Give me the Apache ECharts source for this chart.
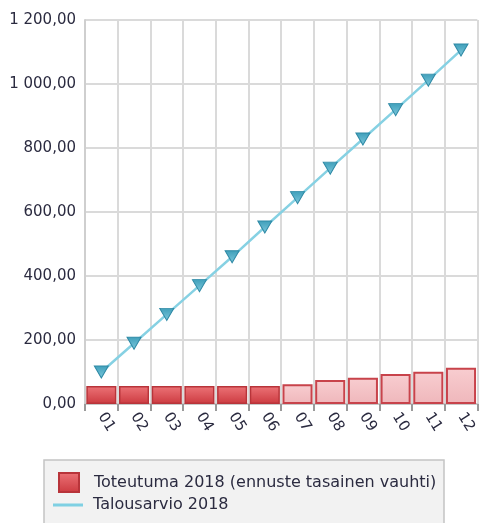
<!DOCTYPE html>
<html>
<head>
<meta charset="utf-8">
<script src="https://cdn.jsdelivr.net/npm/echarts@6/dist/echarts.min.js"></script>
<style>
  html, body { margin: 0; padding: 0; background: #fff; }
  #chart { width: 479px; height: 523px; }
</style>
</head>
<body>
<div id="chart"></div>
<script>
const months = ['01', '02', '03', '04', '05', '06', '07', '08', '09', '10', '11', '12'];
// toteutuma (months 01-06), ennuste (months 07-12)
const actual = [56, 56, 56, 56, 56, 56];
const forecast = [62, 75, 82, 94, 101, 113];
const budget = [100, 190, 280, 370, 460, 553, 645, 737, 828, 920, 1012, 1106];

const barName = 'Toteutuma 2018 (ennuste tasainen vauhti)';
const lineName = 'Talousarvio 2018';
const font = 'DejaVu Sans';

const chart = echarts.init(document.getElementById('chart'));

const forecastStyle = {
  color: new echarts.graphic.LinearGradient(0, 0, 0, 1, [
    { offset: 0, color: '#f8cdd0' },
    { offset: 1, color: '#efb7bb' }
  ]),
  borderColor: '#c8434b',
  borderWidth: 2
};

let barData = actual.map(v => v).concat(forecast.map(v => ({ value: v, itemStyle: forecastStyle })));

function fmt(v) {
  let s = Math.round(v).toString().replace(/\B(?=(\d{3})+(?!\d))/g, ' ');
  return s + ',00';
}

chart.setOption({
  animation: false,
  grid: { left: 85, right: 0, top: 20, bottom: 119, containLabel: false },
  graphic: [{
    type: 'rect',
    shape: { x: 44, y: 460, width: 400, height: 70 },
    style: { fill: '#f2f2f2', stroke: '#c4c4c4', lineWidth: 1.5 },
    z: 0
  }],
  legend: [{
    data: [{ name: barName, icon: 'rect' }],
    left: 58, top: 472,
    itemWidth: 20, itemHeight: 19,
    padding: 0,
    textStyle: { fontFamily: font, fontSize: 16, color: '#2b2b40', padding: [0, 0, 0, 10] }
  }, {
    data: [{ name: lineName, icon: 'rect', itemStyle: { color: '#7fd0e3', borderWidth: 0 } }],
    left: 53, top: 497,
    itemWidth: 30, itemHeight: 3,
    padding: 0,
    textStyle: { fontFamily: font, fontSize: 16, color: '#2b2b40', padding: [0, 0, 0, 5] }
  }],
  xAxis: {
    type: 'category',
    data: months,
    boundaryGap: true,
    axisLine: { show: true, lineStyle: { color: '#c8c8c8', width: 2 } },
    axisTick: { show: true, length: 7, lineStyle: { color: '#9a9a9a', width: 2 } },
    splitLine: { show: true, lineStyle: { color: '#dadada', width: 2 } },
    axisLabel: {
      rotate: -58, margin: 10, interval: 0,
      fontFamily: font, fontSize: 15, color: '#2b2b40'
    }
  },
  yAxis: {
    type: 'value',
    min: 0, max: 1200, interval: 200,
    axisLine: { show: true, lineStyle: { color: '#cfcfcf', width: 2 } },
    axisTick: { show: false },
    splitLine: { show: true, lineStyle: { color: '#dadada', width: 2 } },
    axisLabel: {
      margin: 9, formatter: fmt,
      fontFamily: font, fontSize: 15, color: '#2b2b40'
    }
  },
  series: [{
    name: barName,
    type: 'bar',
    data: barData,
    barCategoryGap: '8%',
    itemStyle: {
      color: new echarts.graphic.LinearGradient(0, 0, 0, 1, [
        { offset: 0, color: '#ec7377' },
        { offset: 1, color: '#cc3a40' }
      ]),
      borderColor: '#b8343a',
      borderWidth: 1.5
    },
    z: 2
  }, {
    name: lineName,
    type: 'line',
    data: budget,
    symbol: 'triangle',
    symbolRotate: 180,
    symbolSize: [14, 12],
    lineStyle: { color: '#86d1e3', width: 2.5 },
    itemStyle: {
      color: new echarts.graphic.LinearGradient(0, 0, 0, 1, [
        { offset: 0, color: '#7cc8dc' },
        { offset: 1, color: '#3f9fba' }
      ]),
      borderColor: '#2f8aa6',
      borderWidth: 1
    },
    z: 3
  }]
});
</script>
</body>
</html>
